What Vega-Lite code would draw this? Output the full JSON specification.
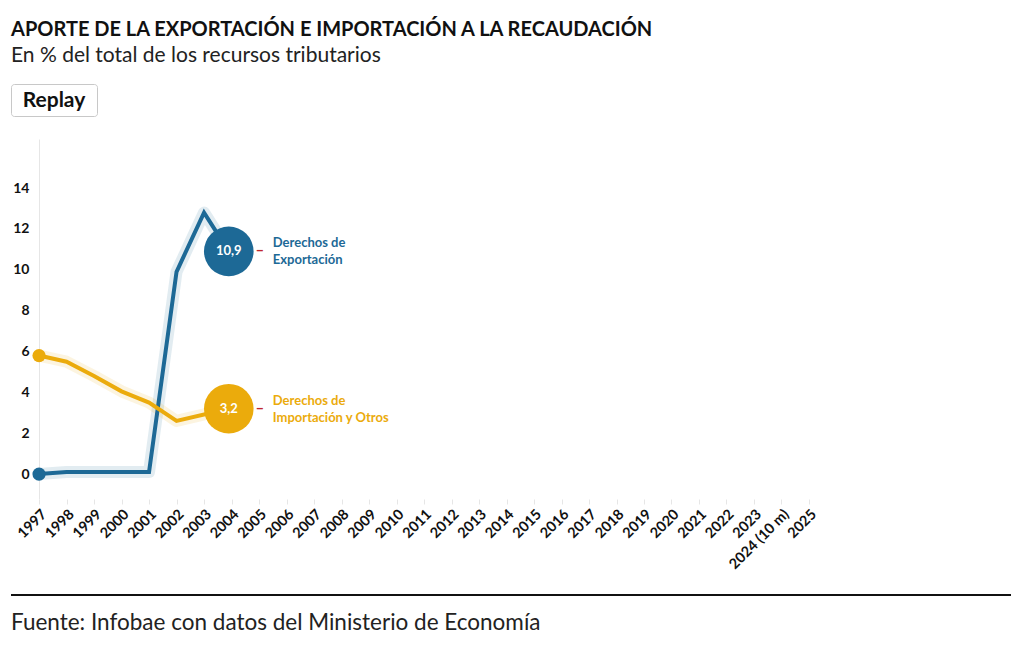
{
  "$schema": "https://vega.github.io/schema/vega-lite/v6.json",
  "background": "white",
  "padding": {"left": 10, "top": 19, "right": 10, "bottom": 10},
  "config": {
    "font": "Lato",
    "view": {"stroke": null},
    "title": {"anchor": "start", "color": "#111"}
  },
  "title": {
    "text": "APORTE DE LA EXPORTACIÓN E IMPORTACIÓN A LA RECAUDACIÓN",
    "subtitle": "En % del total de los recursos tributarios",
    "fontSize": 20,
    "fontWeight": "bold",
    "subtitleFontSize": 21,
    "subtitleColor": "#222",
    "subtitlePadding": 5,
    "offset": 18,
    "frame": "group"
  },
  "datasets": {
    "series": [
      {"year": 1997, "value": 0.0, "serie": "Derechos de Exportación"},
      {"year": 1998, "value": 0.1, "serie": "Derechos de Exportación"},
      {"year": 1999, "value": 0.1, "serie": "Derechos de Exportación"},
      {"year": 2000, "value": 0.1, "serie": "Derechos de Exportación"},
      {"year": 2001, "value": 0.1, "serie": "Derechos de Exportación"},
      {"year": 2002, "value": 9.9, "serie": "Derechos de Exportación"},
      {"year": 2003, "value": 12.8, "serie": "Derechos de Exportación"},
      {"year": 2003.9, "value": 10.9, "serie": "Derechos de Exportación"},
      {"year": 1997, "value": 5.8, "serie": "Derechos de Importación y Otros"},
      {"year": 1998, "value": 5.5, "serie": "Derechos de Importación y Otros"},
      {"year": 1999, "value": 4.8, "serie": "Derechos de Importación y Otros"},
      {"year": 2000, "value": 4.05, "serie": "Derechos de Importación y Otros"},
      {"year": 2001, "value": 3.5, "serie": "Derechos de Importación y Otros"},
      {"year": 2002, "value": 2.6, "serie": "Derechos de Importación y Otros"},
      {"year": 2003.9, "value": 3.2, "serie": "Derechos de Importación y Otros"}
    ],
    "ends": [
      {"year": 2003.9, "value": 10.9, "serie": "Derechos de Exportación", "label": "10,9", "name": "Derechos de\nExportación"},
      {"year": 2003.9, "value": 3.2, "serie": "Derechos de Importación y Otros", "label": "3,2", "name": "Derechos de\nImportación y Otros"}
    ],
    "starts": [
      {"year": 1997, "value": 0.0, "serie": "Derechos de Exportación"},
      {"year": 1997, "value": 5.8, "serie": "Derechos de Importación y Otros"}
    ],
    "grid": [{"g": 0}, {"g": 2}, {"g": 4}, {"g": 6}, {"g": 8}, {"g": 10}, {"g": 12}, {"g": 14}],
    "button": [{"t": "Replay"}],
    "footer": [{"a": 0, "b": 1}]
  },
  "concat": [
    {
      "width": 86,
      "height": 32,
      "view": {"stroke": "#c8c8c8", "strokeWidth": 1, "cornerRadius": 3},
      "data": {"name": "button"},
      "mark": {"type": "text", "fontSize": 21, "fontWeight": "bold", "color": "#111", "baseline": "middle", "align": "center", "dy": 1},
      "encoding": {"text": {"field": "t"}}
    },
    {
      "width": 988,
      "height": 360,
      "encoding": {
        "x": {
          "field": "year",
          "type": "quantitative",
          "scale": {"domain": [1995.98, 2031.91], "nice": false, "zero": false},
          "axis": {
            "title": null,
            "values": [1997, 1998, 1999, 2000, 2001, 2002, 2003, 2004, 2005, 2006, 2007, 2008, 2009, 2010, 2011, 2012, 2013, 2014, 2015, 2016, 2017, 2018, 2019, 2020, 2021, 2022, 2023, 2024, 2025],
            "labelExpr": "datum.value == 2024 ? '2024 (10 m)' : '' + datum.value",
            "labelAngle": -45,
            "labelFontSize": 14.5,
            "labelFontWeight": "bold",
            "labelColor": "#111",
            "labelPadding": 3,
            "labelOverlap": false,
            "labelFlush": false,
            "labelBound": false,
            "grid": false,
            "domain": false,
            "tickColor": "#e6e6e6",
            "tickSize": 5
          }
        },
        "y": {
          "field": "value",
          "type": "quantitative",
          "scale": {"domain": [-1.22, 16.4], "nice": false, "zero": false},
          "axis": {
            "title": null,
            "values": [0, 2, 4, 6, 8, 10, 12, 14],
            "labelFontSize": 14,
            "labelFontWeight": "bold",
            "labelColor": "#111",
            "labelPadding": 10,
            "ticks": false,
            "grid": false,
            "offset": -28,
            "domainColor": "#e6e6e6"
          }
        }
      },
      "layer": [
        {
          "data": {"name": "grid"},
          "mark": {"type": "rule", "color": "#efefef", "strokeWidth": 1},
          "encoding": {
            "y": {"field": "g", "type": "quantitative"},
            "x": {"datum": 1997},
            "x2": {"datum": 2031.91}
          }
        },
        {
          "data": {"name": "grid"},
          "mark": {"type": "rule", "color": "#e6e6e6", "strokeWidth": 1},
          "encoding": {
            "y": {"datum": -1.22},
            "x": {"datum": 1997},
            "x2": {"datum": 2031.91}
          }
        },
        {
          "data": {"name": "series"},
          "mark": {"type": "line", "strokeWidth": 12, "strokeJoin": "round", "strokeCap": "round", "opacity": 0.13},
          "encoding": {
            "color": {"field": "serie", "type": "nominal", "legend": null},
            "detail": {"field": "serie"}
          }
        },
        {
          "data": {"name": "series"},
          "mark": {"type": "line", "strokeWidth": 4, "strokeJoin": "miter"},
          "encoding": {
            "color": {
              "field": "serie",
              "type": "nominal",
              "scale": {"domain": ["Derechos de Exportación", "Derechos de Importación y Otros"], "range": ["#1d6996", "#ebab0c"]},
              "legend": null
            }
          }
        },
        {
          "data": {"name": "starts"},
          "mark": {"type": "circle", "size": 175, "opacity": 1},
          "encoding": {
            "color": {"field": "serie", "type": "nominal", "legend": null}
          }
        },
        {
          "data": {"name": "ends"},
          "mark": {"type": "circle", "size": 2460, "opacity": 1},
          "encoding": {
            "color": {"field": "serie", "type": "nominal", "legend": null}
          }
        },
        {
          "data": {"name": "ends"},
          "mark": {"type": "text", "fontSize": 13, "fontWeight": "bold", "color": "white", "align": "center", "baseline": "middle"},
          "encoding": {
            "text": {"field": "label"}
          }
        },
        {
          "data": {"name": "ends"},
          "mark": {"type": "text", "fontSize": 15, "fontWeight": "bold", "color": "#c0262d", "align": "center", "baseline": "middle", "dx": 31, "dy": -1},
          "encoding": {
            "text": {"value": "–"}
          }
        },
        {
          "data": {"name": "ends"},
          "mark": {"type": "text", "fontSize": 13, "fontWeight": "bold", "align": "left", "baseline": "middle", "dx": 44, "dy": -8, "lineBreak": "\n", "lineHeight": 17},
          "encoding": {
            "text": {"field": "name"},
            "color": {"field": "serie", "type": "nominal", "legend": null}
          }
        }
      ]
    },
    {
      "width": 1000,
      "height": 2,
      "data": {"name": "footer"},
      "mark": {"type": "rect", "color": "#111"},
      "encoding": {
        "x": {"field": "a", "type": "quantitative", "scale": {"domain": [0, 1]}, "axis": null},
        "x2": {"field": "b"}
      },
      "title": {"text": "Fuente: Infobae con datos del Ministerio de Economía", "orient": "bottom", "anchor": "start", "fontSize": 22.5, "fontWeight": "normal", "color": "#222", "offset": 16}
    }
  ],
  "columns": 1,
  "align": "none",
  "spacing": 22
}
